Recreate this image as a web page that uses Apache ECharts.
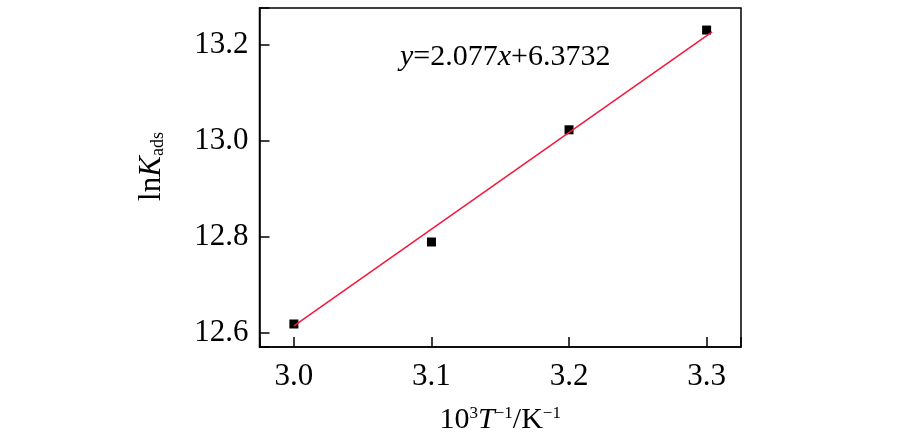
<!DOCTYPE html>
<html>
<head>
<meta charset="utf-8">
<script src="https://cdn.jsdelivr.net/npm/echarts@6/dist/echarts.min.js"></script>
<style>
  html, body { margin: 0; padding: 0; background: #fff; }
  #chart { width: 900px; height: 444px; }
</style>
</head>
<body>
<div id="chart"></div>
<script>
// 数据
const invT = [3.0, 3.1, 3.2, 3.3]
const lnK = [12.618, 12.789, 13.023, 13.231]
// 拟合直线的两个端点
const fitX = [3.0, 3.304]
const fitY = [12.614, 13.227]
const equation = 'y=2.077x+6.3732'

const font = "'Liberation Serif', 'Times New Roman', serif"
const chart = echarts.init(document.getElementById('chart'))

const oneDecimal = (v) => {
  return Math.abs(v * 10 - Math.round(v * 10)) < 1e-6 ? v.toFixed(1) : ''
}

chart.setOption({
  animation: false,
  backgroundColor: '#fff',
  grid: {
    left: 259.5,
    right: 159,
    top: 8,
    bottom: 97,
    show: true,
    borderColor: '#000',
    borderWidth: 1.5
  },
  xAxis: {
    type: 'value',
    min: 2.975,
    max: 3.325,
    minInterval: 0.1,
    maxInterval: 0.1,
    splitLine: { show: false },
    axisLine: { lineStyle: { color: '#000', width: 1.5 } },
    axisTick: { inside: true, length: 10, lineStyle: { color: '#000', width: 1.5 } },
    axisLabel: {
      margin: 14,
      color: '#000',
      fontFamily: font,
      fontSize: 31,
      formatter: oneDecimal
    },
    name: '{n|10}{s|3}{i|T}{s|−1}{n|/K}{s|−1}',
    nameLocation: 'middle',
    nameGap: 58,
    nameTextStyle: {
      rich: {
        n: { fontFamily: font, fontSize: 30, color: '#000' },
        i: { fontFamily: font, fontSize: 30, fontStyle: 'italic', color: '#000' },
        s: { fontFamily: font, fontSize: 17, color: '#000', verticalAlign: 'top' }
      }
    }
  },
  yAxis: {
    type: 'value',
    min: 12.57,
    max: 13.277,
    minInterval: 0.2,
    maxInterval: 0.2,
    splitLine: { show: false },
    axisLine: { show: true, lineStyle: { color: '#000', width: 1.5 } },
    axisTick: { show: true, inside: true, length: 10, lineStyle: { color: '#000', width: 1.5 } },
    axisLabel: {
      margin: 11,
      color: '#000',
      fontFamily: font,
      fontSize: 31,
      formatter: oneDecimal
    },
    name: '{n|ln}{i|K}{b|ads}',
    nameLocation: 'middle',
    nameRotate: 90,
    nameGap: 92,
    nameTextStyle: {
      padding: [0, 0, 0, 22],
      rich: {
        n: { fontFamily: font, fontSize: 31, color: '#000' },
        i: { fontFamily: font, fontSize: 31, fontStyle: 'italic', color: '#000' },
        b: { fontFamily: font, fontSize: 18, color: '#000', verticalAlign: 'bottom' }
      }
    }
  },
  graphic: [
    {
      type: 'text',
      left: 400,
      top: 42,
      style: {
        rich: {
          i: { fontFamily: font, fontSize: 30, fontStyle: 'italic', fill: '#000' },
          n: { fontFamily: font, fontSize: 30, fill: '#000' }
        },
        text: '{i|y}{n|=2.077}{i|x}{n|+6.3732}'
      }
    }
  ],
  series: [
    {
      type: 'scatter',
      symbol: 'rect',
      symbolSize: 9,
      itemStyle: { color: '#000', opacity: 1 },
      data: invT.map((x, i) => [x, lnK[i]]),
      z: 2
    },
    {
      type: 'line',
      showSymbol: false,
      symbol: 'none',
      lineStyle: { color: '#f5163c', width: 1.5 },
      data: fitX.map((x, i) => [x, fitY[i]]),
      z: 3
    }
  ]
})
</script>
</body>
</html>
